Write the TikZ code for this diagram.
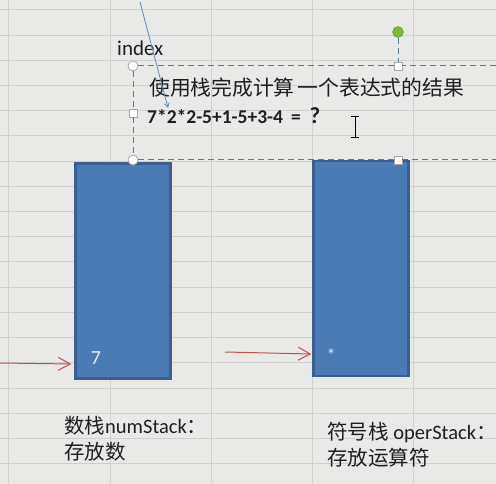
\documentclass[tikz,border=0pt]{standalone}
\usepackage{fontspec}
\setmainfont{Carlito}
\newfontfamily\cjk{Noto Sans CJK SC}
\usetikzlibrary{arrows.meta,calc}
\definecolor{sheetbg}{HTML}{E9EAE8}
\definecolor{gridline}{HTML}{CFD0CE}
\definecolor{stackfill}{HTML}{4A7BB5}
\definecolor{stackedge}{HTML}{3B5E8C}
\definecolor{selblue}{HTML}{5F7898}
\definecolor{pushred}{HTML}{C0504D}
\definecolor{rotgreen}{HTML}{7DB83A}
\definecolor{inkgray}{HTML}{1E1E1E}
\begin{document}
\begin{tikzpicture}[x=1pt,y=-1pt]
          \tikzstyle{stack}=[rectangle,draw=stackedge,line width=2.5pt,fill=stackfill,minimum width=95pt,minimum height=215pt,inner sep=0pt]
          \tikzstyle{hcirc}=[circle,draw=gray!70,fill=white,line width=0.8pt,minimum size=10pt,inner sep=0pt]
          \tikzstyle{hsq}=[rectangle,draw=gray!70,fill=white,line width=0.8pt,minimum size=8pt,inner sep=0pt]
          \tikzstyle{selline}=[draw=selblue,line width=1pt,dash pattern=on 6pt off 4pt]
          \tikzstyle{push}=[draw=pushred,line width=1pt,-{Straight Barb[length=12pt,width=13pt]}]
          \tikzstyle{label}=[inner sep=0pt,anchor=west,text=inkgray,font=\fontsize{20.5}{26}\selectfont,align=left]
          % sheet and grid
          \useasboundingbox[fill=sheetbg] (0,0) rectangle (496,484);
          \foreach \gx in {8,110,211,312,413}
              \draw[gridline,line width=1pt] (\gx,0) -- (\gx,484);
          \foreach \k in {0,...,18}
              \draw[gridline,line width=1pt] (0,10+25.2*\k) -- (496,10+25.2*\k);
          \begin{scope}
              % stacks
              \node [stack] (numstack) at (123,271) {};
              \node [stack] (operstack) at (361,268.5) {};
              \node [font=\fontsize{20}{20}\selectfont,text=white!85!stackfill] (numtop) at (96,358) {7};
              \node [font=\fontsize{18}{18}\selectfont,text=white!80!stackfill] (opertop) at (331,355) {*};
              % push arrows
              \coordinate (numin) at (0,363);
              \coordinate (operin) at (225,352);
              \path[push] (numin) -- ([xshift=-3pt]numstack.west |- 0,364);
              \path[push] (operin) -- ([xshift=-1pt]operstack.west |- 0,354);
              % text box selection
              \coordinate (selne) at (496,66);
              \coordinate (selse) at (496,160);
              \node [hcirc] (selnw) at (133,66) {};
              \node [hcirc] (selsw) at (133,160) {};
              \node [hsq] (selw) at (133,113) {};
              \node [hsq] (seln) at (398,66) {};
              \node [hsq] (sels) at (398,160) {};
              \node [circle,fill=rotgreen,draw=rotgreen!80!black,minimum size=11pt,inner sep=0pt] (rot) at (398,32) {};
              \path[selline] (selne) -- (seln) -- (selnw) -- (selw) -- (selsw) -- (sels) -- (selse);
              \path[selline] (rot) -- (seln);
              % texts
              \node [label,font=\fontsize{21}{21}\selectfont] (idx) at (117,48) {index};
              \node [label,font=\fontsize{20.8}{21}\cjk] (title) at (149,88) {使用栈完成计算\hspace{3pt}一个表达式的结果};
              \node [label,font=\fontsize{19.5}{19.5}\selectfont\bfseries] (expr) at (147,116) {7*2*2-5+1-5+3-4\hspace{8pt}=\hspace{9pt}{\fontsize{23}{23}\selectfont ?}};
              \coordinate (ptr) at (140,2);
              \path[draw=stackfill!90!white,line width=0.8pt,-{Straight Barb[length=4pt,width=5pt]}] (ptr) -- (expr.north west -| 168,100);
              \node [label] (numlbl) at (64,439) {{\cjk 数栈}numStack{\cjk ：}\\{\cjk 存放数}};
              \node [label] (operlbl) at (327,445) {{\cjk 符号栈} operStack{\cjk ：}\\{\cjk 存放运算符}};
          \end{scope}
          % text cursor
          \draw[black,line width=1pt] (351,117) -- (359,117) (355,117) -- (355,138) (351,138) -- (359,138);
        \end{tikzpicture}
\end{document}
